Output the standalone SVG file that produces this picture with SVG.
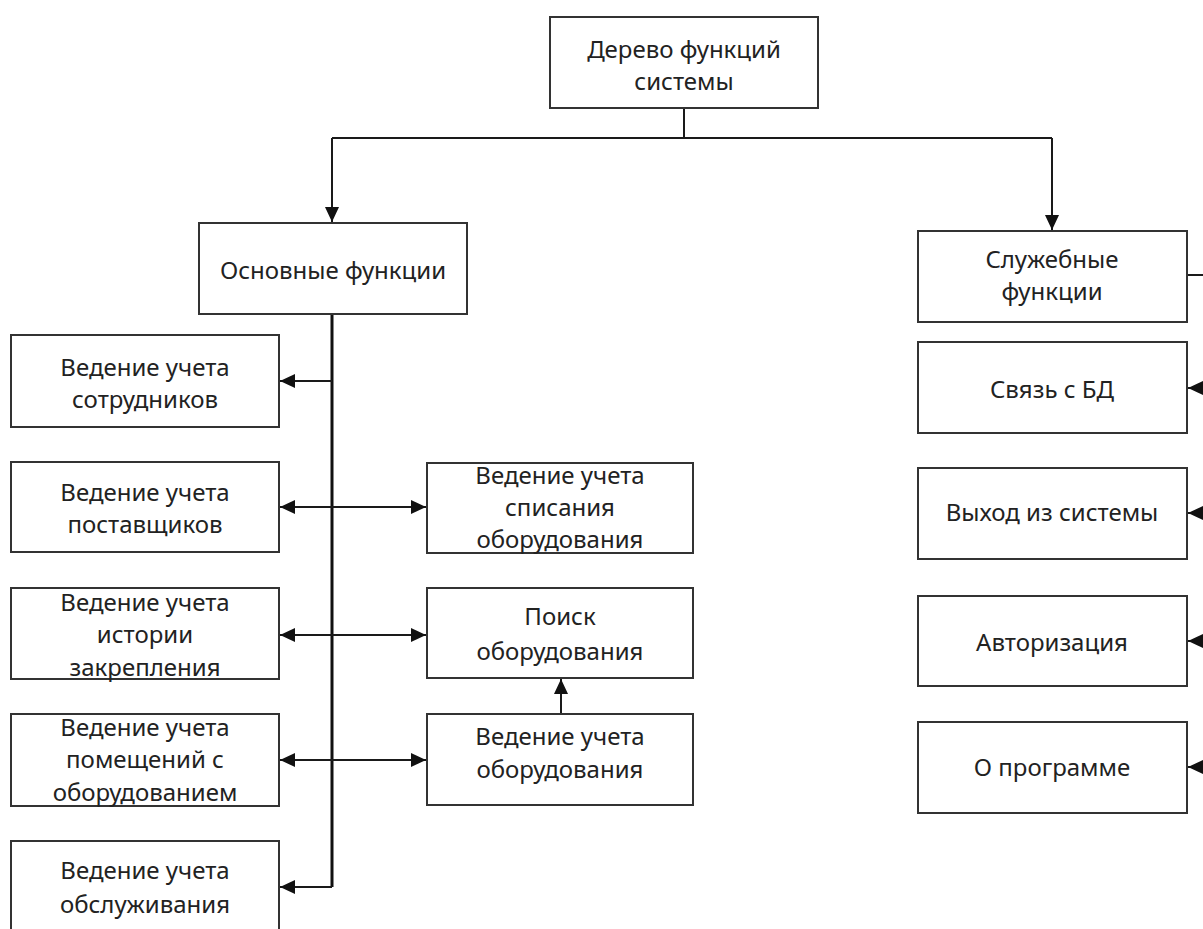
<svg xmlns="http://www.w3.org/2000/svg" width="1203" height="929" viewBox="0 0 1203 929">
  <style>
    .box { fill: #ffffff; stroke: #333333; stroke-width: 2; }
    .lbl { font-family: "Noto Sans", "Open Sans", sans-serif; font-size: 24px; fill: #222222; text-anchor: middle; }
    .wire { fill: none; stroke: #1a1a1a; stroke-width: 2; }
    .trunk { fill: none; stroke: #111111; stroke-width: 3; }
  </style>
  <defs>
    <marker id="arrow" markerUnits="userSpaceOnUse" markerWidth="16" markerHeight="14" refX="15" refY="7" orient="auto">
      <path d="M0,0 L15,7 L0,14 Z" fill="#111111"/>
    </marker>
  </defs>

  <rect width="1203" height="929" fill="#ffffff"/>

  <!-- connectors -->
  <g id="connectors">
    <path class="wire" d="M684,108 V138"/>
    <path class="wire" d="M332,138 H1052"/>
    <path class="wire" d="M332,138 V222" marker-end="url(#arrow)"/>
    <path class="wire" d="M1052,138 V230" marker-end="url(#arrow)"/>

    <path class="trunk" d="M332,314 V887"/>
    <path class="wire" d="M332,381 H280" marker-end="url(#arrow)"/>
    <path class="wire" d="M332,507 H280" marker-end="url(#arrow)"/>
    <path class="wire" d="M332,635 H280" marker-end="url(#arrow)"/>
    <path class="wire" d="M332,760 H280" marker-end="url(#arrow)"/>
    <path class="wire" d="M332,887 H280" marker-end="url(#arrow)"/>
    <path class="wire" d="M332,507 H426" marker-end="url(#arrow)"/>
    <path class="wire" d="M332,635 H426" marker-end="url(#arrow)"/>
    <path class="wire" d="M332,760 H426" marker-end="url(#arrow)"/>
    <path class="wire" d="M561,714 V679" marker-end="url(#arrow)"/>

    <path class="wire" d="M1187,275 H1210"/>
    <path class="wire" d="M1218,388 H1188" marker-end="url(#arrow)"/>
    <path class="wire" d="M1218,513 H1188" marker-end="url(#arrow)"/>
    <path class="wire" d="M1218,641 H1188" marker-end="url(#arrow)"/>
    <path class="wire" d="M1218,767 H1188" marker-end="url(#arrow)"/>
  </g>

  <!-- root -->
  <g id="root">
    <rect class="box" x="550" y="17" width="268" height="91"/>
    <text class="lbl" x="684" y="58">Дерево функций</text>
    <text class="lbl" x="684" y="90">системы</text>
  </g>

  <!-- main functions branch -->
  <g id="main-functions">
    <rect class="box" x="199" y="223" width="268" height="91"/>
    <text class="lbl" x="333" y="279">Основные функции</text>
  </g>

  <g id="staff">
    <rect class="box" x="11" y="335" width="268" height="92"/>
    <text class="lbl" x="145" y="376">Ведение учета</text>
    <text class="lbl" x="145" y="408">сотрудников</text>
  </g>

  <g id="suppliers">
    <rect class="box" x="11" y="462" width="268" height="90"/>
    <text class="lbl" x="145" y="501">Ведение учета</text>
    <text class="lbl" x="145" y="533">поставщиков</text>
  </g>

  <g id="assignment-history">
    <rect class="box" x="11" y="588" width="268" height="91"/>
    <text class="lbl" x="145" y="611">Ведение учета</text>
    <text class="lbl" x="145" y="643">истории</text>
    <text class="lbl" x="145" y="676">закрепления</text>
  </g>

  <g id="rooms">
    <rect class="box" x="11" y="714" width="268" height="92"/>
    <text class="lbl" x="145" y="736">Ведение учета</text>
    <text class="lbl" x="145" y="768">помещений с</text>
    <text class="lbl" x="145" y="801">оборудованием</text>
  </g>

  <g id="maintenance">
    <rect class="box" x="11" y="841" width="268" height="100"/>
    <text class="lbl" x="145" y="879">Ведение учета</text>
    <text class="lbl" x="145" y="913">обслуживания</text>
  </g>

  <g id="write-off">
    <rect class="box" x="427" y="463" width="266" height="90"/>
    <text class="lbl" x="560" y="484">Ведение учета</text>
    <text class="lbl" x="560" y="516">списания</text>
    <text class="lbl" x="560" y="548">оборудования</text>
  </g>

  <g id="search">
    <rect class="box" x="427" y="588" width="266" height="90"/>
    <text class="lbl" x="560" y="625">Поиск</text>
    <text class="lbl" x="560" y="660">оборудования</text>
  </g>

  <g id="equipment">
    <rect class="box" x="427" y="714" width="266" height="91"/>
    <text class="lbl" x="560" y="745">Ведение учета</text>
    <text class="lbl" x="560" y="778">оборудования</text>
  </g>

  <!-- service functions branch -->
  <g id="service-functions">
    <rect class="box" x="918" y="231" width="269" height="91"/>
    <text class="lbl" x="1052" y="268">Служебные</text>
    <text class="lbl" x="1052" y="300">функции</text>
  </g>

  <g id="db-link">
    <rect class="box" x="918" y="342" width="269" height="91"/>
    <text class="lbl" x="1052" y="398">Связь с БД</text>
  </g>

  <g id="logout">
    <rect class="box" x="918" y="468" width="269" height="91"/>
    <text class="lbl" x="1052" y="521">Выход из системы</text>
  </g>

  <g id="login">
    <rect class="box" x="918" y="596" width="269" height="90"/>
    <text class="lbl" x="1052" y="651">Авторизация</text>
  </g>

  <g id="about">
    <rect class="box" x="918" y="722" width="269" height="91"/>
    <text class="lbl" x="1052" y="776">О программе</text>
  </g>
</svg>
